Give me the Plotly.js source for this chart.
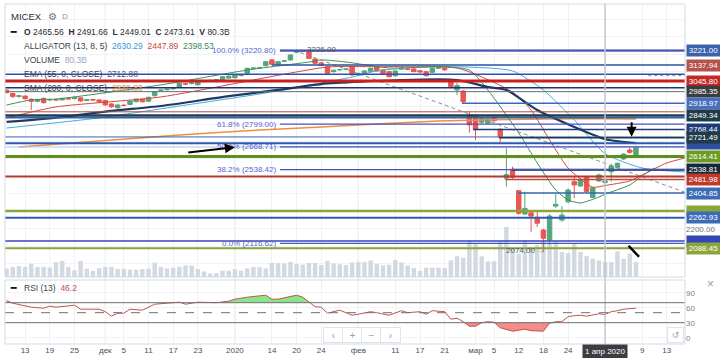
<!DOCTYPE html>
<html><head><meta charset="utf-8">
<script src="https://cdn.plot.ly/plotly-3.0.1.min.js"></script>
<style>html,body{margin:0;padding:0;background:#fff;}#chart{width:720px;height:358px;}</style>
</head><body><div id="chart"></div>
<script>
// ---------------- DATA ----------------
const dates = ['2019-11-08','2019-11-11','2019-11-12','2019-11-13','2019-11-14','2019-11-15','2019-11-18','2019-11-19','2019-11-20','2019-11-21','2019-11-22','2019-11-25','2019-11-26','2019-11-27','2019-11-28','2019-11-29',
'2019-12-02','2019-12-03','2019-12-04','2019-12-05','2019-12-06','2019-12-09','2019-12-10','2019-12-11','2019-12-12','2019-12-13','2019-12-16','2019-12-17','2019-12-18','2019-12-19','2019-12-20','2019-12-23','2019-12-24','2019-12-25','2019-12-26','2019-12-27','2019-12-30',
'2020-01-03','2020-01-06','2020-01-08','2020-01-09','2020-01-10','2020-01-13','2020-01-14','2020-01-15','2020-01-16','2020-01-17','2020-01-20','2020-01-21','2020-01-22','2020-01-23','2020-01-24','2020-01-27','2020-01-28','2020-01-29','2020-01-30','2020-01-31',
'2020-02-03','2020-02-04','2020-02-05','2020-02-06','2020-02-07','2020-02-10','2020-02-11','2020-02-12','2020-02-13','2020-02-14','2020-02-17','2020-02-18','2020-02-19','2020-02-20','2020-02-21','2020-02-25','2020-02-26','2020-02-27','2020-02-28',
'2020-03-02','2020-03-03','2020-03-04','2020-03-05','2020-03-06','2020-03-10','2020-03-11','2020-03-12','2020-03-13','2020-03-16','2020-03-17','2020-03-18','2020-03-19','2020-03-20','2020-03-23','2020-03-24','2020-03-25','2020-03-26','2020-03-27','2020-03-30','2020-03-31',
'2020-04-01','2020-04-02','2020-04-03','2020-04-06','2020-04-07','2020-04-08'];
const futureDates = ['2020-04-09','2020-04-10','2020-04-11','2020-04-12','2020-04-13'];

const open = [2994,2975,2958,2960,2942,2930,2947,2938,2940,2938,2947,2945,2950,2935,2940,2938,
2934,2915,2893,2908,2912,2928,2942,2930,2962,2990,2996,3002,3012,3030,3032,3025,3043,3044,3052,3055,3063,
3065,3078,3090,3118,3121,3134,3167,3142,3160,3167,3211,3219,3214,3172,3150,3128,3100,3110,3114,3128,
3080,3087,3102,3128,3110,3100,3076,3114,3115,3115,3105,3100,3096,3119,3119,3052,2995,2989,2842,
2846,2810,2805,2838,2770,2490,2541,2418,2285,2292,2266,2193,2136,2330,2250,2355,2470,2445,2495,2380,2474,
2465.56,2527,2552,2600,2651,2623];
const high = [2998,2980,2966,2964,2946,2945,2952,2945,2946,2950,2952,2955,2953,2944,2946,2942,
2938,2920,2912,2914,2935,2946,2946,2955,2988,2998,3004,3008,3036,3036,3040,3042,3049,3053,3058,3074,3078,
3084,3084,3122,3125,3127,3160,3172,3160,3166,3198,3226,3224,3218,3176,3156,3132,3112,3117,3120,3132,
3095,3108,3122,3133,3114,3104,3108,3124,3120,3120,3110,3104,3122,3132,3124,3058,3035,2995,2870,
2855,2840,2835,2845,2775,2661,2556,2422,2413,2308,2300,2200,2284,2403,2330,2430,2502,2490,2500,2440,2516,
2491.66,2573,2580,2632,2665,2675];
const low = [2976,2950,2950,2940,2880,2925,2918,2932,2934,2935,2940,2942,2928,2930,2934,2920,
2905,2893,2888,2900,2908,2924,2924,2928,2958,2985,2992,2996,3008,3024,3027,3020,3038,3040,3047,3050,3058,
3060,3072,3085,3112,3115,3130,3138,3138,3154,3163,3205,3212,3172,3144,3132,3085,3094,3105,3108,3078,
3075,3083,3098,3100,3086,3068,3072,3110,3108,3096,3094,3072,3092,3115,3105,3010,2966,2915,2750,
2708,2800,2798,2812,2690,2441,2480,2280,2279,2183,2210,2074,2110,2320,2240,2345,2375,2440,2405,2375,2468,
2449.01,2471,2545,2595,2630,2618];
const close = [2980,2957,2962,2945,2930,2941,2922,2940,2938,2947,2944,2952,2932,2940,2938,2928,
2909,2899,2909,2906,2932,2943,2927,2953,2985,2994,2999,3004,3033,3029,3035,3040,3045,3050,3054,3071,3074,
3081,3079,3119,3120,3123,3157,3142,3157,3162,3195,3220,3217,3176,3148,3137,3090,3108,3112,3115,3081,
3090,3104,3119,3104,3090,3071,3104,3120,3112,3100,3098,3077,3119,3128,3110,3014,3020,2928,2795,
2770,2830,2829,2819,2728,2510,2495,2289,2317,2273,2232,2146,2273,2340,2279,2422,2451,2483,2413,2435,2508,
2473.61,2560,2575,2628,2638,2667];
const volume = [46,54,59,54,71,54,54,50,80,86,54,36,86,45,32,48,
54,54,43,43,39,39,43,45,77,54,46,50,55,62,61,43,30,18,21,34,34,
41,34,46,55,52,46,75,75,73,80,70,66,75,75,64,86,73,68,64,78,
80,80,89,71,62,66,91,78,62,48,32,50,50,50,48,89,111,103,196,
180,111,84,84,187,268,151,125,196,159,170,187,178,191,134,128,182,134,112,98,89,
80.3,80,137,98,125,80];

// indicator readings (bar number, value)
const emaBar = [0,9,17,25,36,44,51,64,73,78,81,86,92,97,102];
const emaVal = [2812,2840,2875,2903,2960,2995,3029,3052,3052,3012,2995,2880,2783,2712.88,2691];
const smaBar = [2,28,41,51,70,87,97,102];
const smaVal = [2668,2737,2766,2783,2817,2829,2830.83,2829];
const jawBar = [0,15,28,41,51,56,60,67,75,82,87,92,97,103,110];
const jawVal = [2777,2835,2903,2972,3035,3069,3104,3126,3126,3104,2995,2823,2630.29,2548,2525];
const teethBar = [0,8,25,52,60,73,82,85,88,91,95,97,101,103,107,110];
const teethVal = [2835,2898,2955,3126,3128,3121,2983,2880,2709,2548,2438,2447.89,2474,2508,2577,2606];
const lipsBar = [0,4,8,25,39,49,51,55,62,70,75,78,83,86,89,91,93,96,97,101,103,105];
const lipsVal = [2909,2938,2943,3024,3109,3155,3167,3155,3121,3127,3109,2995,2749,2577,2422,2365,2348,2382,2398.53,2451,2503,2548];
const rsiBar = [0,1,4,6,7,8,11,12,15,16,17,18,19,20,22,24,27,28,29,31,34,36,37,39,42,43,44,46,47,48,50,51,52,54,55,56,57,59,60,62,64,65,67,68,69,71,72,73,74,75,76,77,78,79,80,81,82,83,84,85,86,87,88,89,90,91,92,93,94,95,96,97,98,99,100,101,102];
const rsiVal = [74,69,61,59,63,61,65,57,57,52,43,49,49,57,55,67,70,71,67,71,70,73,77,81,85,77,77,83,85,81,62,61,49,55,50,45,47,52,50,45,54,50,52,47,54,52,37,39,32,23,23,30,32,31,20,16,13,15,17,14,13,13,29,32,32,42,44,45,43,45,48,46.2,52,54,57,58,59];

// drawn levels
const levelPrice = [3221.00,3137.94,3085,3045.80,3008,2985.35,2918.97,2870,2849.34,2836,2768.44,2726,2721.49,2690,2668.71,2614.41,2538.81,2500,2481.98,2404.85,2302,2262.93,2130,2088.45];
const levelStart = [44.3,43.0,null,null,null,null,73.8,null,null,null,75.6,null,79.8,null,null,null,81.9,null,80.8,82.9,null,null,null,null];
const boxPrice = [2768.44,2690.00,2302.00,2130.00,3221.00,3137.94,3045.80,2985.35,2918.97,2849.34,2721.49,2614.41,2538.81,2481.98,2404.85,2262.93,2088.45];
const boxCovered = [false,true,true,true,false,false,false,false,false,false,false,false,false,false,false,false,false];
const fibRatio = ['100.0%','61.8%','50.0%','38.2%','0.0%'];
const fibPrice = [3220.80,2799.00,2668.71,2538.42,2116.62];
const fibStartBar = 44.3;
const trendBar = [46.5,109.95];
const trendVal = [3223,2409];
const arrowFrom = [[29.2,2636],[101.3,2819]];
const arrowTo = [[37.0,2667],[101.3,2727]];
const slashBar = [100.8,102.5];
const slashVal = [2103,2040];
const highMark = {date:'2020-01-20', value:3226.00};
const lowMark = {date:'2020-03-18', value:2074.00};

const tickDates = ['2019-11-13','2019-11-19','2019-11-25','2019-12-02','2019-12-05','2019-12-11','2019-12-17','2019-12-23','2020-01-03','2020-01-14','2020-01-20','2020-01-24','2020-02-03','2020-02-11','2020-02-17','2020-02-21','2020-03-02','2020-03-05','2020-03-12','2020-03-18','2020-03-24','2020-04-09','2020-04-13'];
const tickText = ['13','19','25','дек','5','11','17','23','2020','14','20','24','фев','11','17','21','мар','5','12','18','24','9','13'];
const monthStarts = ['2019-12-02','2020-01-03','2020-02-03','2020-03-02'];
const crossDate = '2020-04-01';
const crossLabel = '1 апр 2020';

// ---------------- STYLE / LAYOUT ----------------
const levelColor = ['#23408e','#2c50a0','#2f52b0','#cc1f1f','#1e3572','#6a6a6a','#3d68b8','#b04a45','#1f3d52','#3060b0','#1f3a78','#3a62b0','#1c3d4c','#2d5ab0','#a9c4ea','#5f901c','#0f2a45','#b23a32','#c24a3c','#3566b3','#8aa63a','#2f5cb0','#3346b8','#86a33a'];
const levelWidth = [2,1.5,1.5,3,1.5,1,1.5,1,2.5,1.5,1.5,1,1.5,2,1,3,2,2,1.5,1.5,2.5,2,1.5,2];
const boxColor = ['#1f3a78','#2d4f9e','#8aa63a','#3346b8','#3a62ad','#b5524c','#c62828','#3c3c3c','#4770bd','#1f3a48','#1f3a48','#6d9a24','#14283a','#c0392b','#3c6bb5','#3c6bb5','#8aa63a'];

const W=720,H=358,M={l:5,r:35,t:4,b:14};
const PW=W-M.l-M.r, PH=H-M.t-M.b;
const px = x => (x-M.l)/PW;
const py = y => (H-M.b-y)/PH;
const xRange=[-0.26,109.95];
const priceRange=[1924.1,3487.2];
const volRange=[0,1461];
const rsiRange=[-12.6,115.4];
const mainDomain=[py(277),1];
const rsiDomain=[0,py(280)];
const FONT='Liberation Sans, Arial, sans-serif';

const axisDates = dates.concat(futureDates);
const bars = dates.map((d,i)=>i);
const k = dates.indexOf(crossDate);
const at = (b,v,i)=>v[b.indexOf(i)];

// ---------------- TRACES ----------------
const traces = [];
traces.push({type:'bar',x:bars,y:volume,xaxis:'x',yaxis:'y',marker:{color:'#d3d9e1'},width:0.72,hoverinfo:'skip'});
traces.push({type:'candlestick',x:bars,open:open,high:high,low:low,close:close,xaxis:'x',yaxis:'y3',
  increasing:{line:{color:'#55a57c',width:1},fillcolor:'#55a57c'},
  decreasing:{line:{color:'#ea5650',width:1},fillcolor:'#ea5650'},whiskerwidth:0,hoverinfo:'skip'});
function line(xs,ys,color,width,dash){return {type:'scatter',mode:'lines',x:xs,y:ys,xaxis:'x',yaxis:'y3',line:{color:color,width:width,dash:dash||'solid',shape:'spline',smoothing:0.6},hoverinfo:'skip'};}
traces.push(line(smaBar,smaVal,'#ef8f3a',1.5));
traces.push(line(jawBar,jawVal,'#4aa8de',1));
traces.push(line(teethBar,teethVal,'#d5493c',1));
traces.push(line(lipsBar,lipsVal,'#3f9158',1));
traces.push(line(emaBar,emaVal,'#1d3a62',2.2));
traces.push({type:'scatter',mode:'lines',x:trendBar,y:trendVal,xaxis:'x',yaxis:'y3',line:{color:'#8a8d93',width:1,dash:'4px,3px'},hoverinfo:'skip'});

function clipAt(xs,ys,lvl,above){
  const X=[],Y=[];
  for(let i=0;i<xs.length;i++){
    if(i>0){const y0=ys[i-1],y1=ys[i];
      if((y0-lvl)*(y1-lvl)<0){const t=(lvl-y0)/(y1-y0);X.push(xs[i-1]+t*(xs[i]-xs[i-1]));Y.push(lvl);}}
    X.push(xs[i]);Y.push(above?Math.max(ys[i],lvl):Math.min(ys[i],lvl));
  }
  return {X,Y};
}
const up=clipAt(rsiBar,rsiVal,70,true), dn=clipAt(rsiBar,rsiVal,30,false);
traces.push({type:'scatter',mode:'lines',x:up.X,y:up.X.map(()=>70),xaxis:'x',yaxis:'y2',line:{width:0},hoverinfo:'skip'});
traces.push({type:'scatter',mode:'lines',x:up.X,y:up.Y,xaxis:'x',yaxis:'y2',line:{width:0},fill:'tonexty',fillcolor:'rgba(96,222,96,0.75)',hoverinfo:'skip'});
traces.push({type:'scatter',mode:'lines',x:dn.X,y:dn.X.map(()=>30),xaxis:'x',yaxis:'y2',line:{width:0},hoverinfo:'skip'});
traces.push({type:'scatter',mode:'lines',x:dn.X,y:dn.Y,xaxis:'x',yaxis:'y2',line:{width:0},fill:'tonexty',fillcolor:'rgba(242,110,110,0.8)',hoverinfo:'skip'});
traces.push({type:'scatter',mode:'lines',x:rsiBar,y:rsiVal,xaxis:'x',yaxis:'y2',line:{color:'#c0534f',width:1},hoverinfo:'skip'});

// ---------------- SHAPES ----------------
const shapes=[];
monthStarts.forEach(d=>{const i=axisDates.indexOf(d);
  shapes.push({type:'line',xref:'x',yref:'paper',x0:i,x1:i,y0:0,y1:1,line:{color:'#dcdfe5',width:1},layer:'below'});});
levelPrice.forEach((p,i)=>{
  shapes.push({type:'line',xref:'x',yref:'y3',x0:levelStart[i]===null?xRange[0]:levelStart[i],x1:xRange[1],y0:p,y1:p,line:{color:levelColor[i],width:levelWidth[i]},layer:'above'});});
fibPrice.forEach(p=>{
  shapes.push({type:'line',xref:'x',yref:'y3',x0:fibStartBar,x1:xRange[1],y0:p,y1:p,line:{color:'#4a50c6',width:1.3},layer:'above'});});
shapes.push({type:'line',xref:'x',yref:'y3',x0:104,x1:xRange[1],y0:3077,y1:3077,line:{color:'#8a8d93',width:1,dash:'3px,3px'},layer:'above'});
shapes.push({type:'line',xref:'x',yref:'y3',x0:slashBar[0],x1:slashBar[1],y0:slashVal[0],y1:slashVal[1],line:{color:'#000',width:2.5},layer:'above'});
const kc=dates.indexOf(crossDate);
shapes.push({type:'line',xref:'x',yref:'paper',x0:kc,x1:kc,y0:0,y1:1,line:{color:'#c3c6cc',width:1.5},layer:'above'});
[[70,'solid'],[50,'dash'],[30,'solid']].forEach(([v,d])=>shapes.push({type:'line',xref:'paper',yref:'y2',x0:0,x1:1,y0:v,y1:v,line:{color:'#6f6f6f',width:1,dash:d},layer:'above'}));
shapes.push({type:'rect',xref:'paper',yref:'paper',x0:0,x1:1,y0:mainDomain[0],y1:1,line:{color:'#d3d9e3',width:1}});
shapes.push({type:'rect',xref:'paper',yref:'paper',x0:0,x1:1,y0:0,y1:rsiDomain[1],line:{color:'#d3d9e3',width:1}});

// ---------------- ANNOTATIONS ----------------
const ann=[];
const NB='\u00a0';
function txt(x,y,text,size,color,extra){return Object.assign({xref:'paper',yref:'paper',x:px(x),y:py(y),xanchor:'left',yanchor:'middle',text:text,showarrow:false,font:{family:FONT,size:size,color:color}},extra||{});}
ann.push(txt(9,16.5,'MICEX',9.5,'#2a2e39'));
ann.push(txt(46,16.5,'⚙',10,'#6e717c'));
ann.push(txt(60,17,'D',8,'#8e929c'));
ann.push(txt(8,32.3,'<b>━</b>',9,'#131722'));
const f2=v=>v.toFixed(2);
ann.push(txt(22,32.3,`<b>O</b>${NB}${f2(open[k])}${NB} <b>H</b>${NB}${f2(high[k])}${NB} <b>L</b>${NB}${f2(low[k])}${NB} <b>C</b>${NB}${f2(close[k])}${NB} <b>V</b>${NB}${volume[k]}B`,8.5,'#2a2e39'));
ann.push(txt(22,45.7,`ALLIGATOR (13, 8, 5)${NB} <span style="color:#3797d3">${f2(at(jawBar,jawVal,k))}</span>${NB} <span style="color:#c8463a">${f2(at(teethBar,teethVal,k))}</span>${NB} <span style="color:#3b8b55">${f2(at(lipsBar,lipsVal,k))}</span>`,8.5,'#3b3f4a'));
ann.push(txt(22,60,`VOLUME${NB} <span style="color:#9aa9bd">${volume[k]}B</span>`,8.5,'#3b3f4a'));
ann.push(txt(22,74,`EMA (55, 0, CLOSE)${NB} <span style="color:#3a5a86">${f2(at(emaBar,emaVal,k))}</span>`,8.5,'#3b3f4a'));
ann.push(txt(22,88.3,`SMA (200, 0, CLOSE)${NB} <span style="color:#e8893a">${f2(at(smaBar,smaVal,k))}</span>`,8.5,'#3b3f4a'));
ann.push(txt(8,288.3,'<b>━</b>',9,'#131722'));
ann.push(txt(22,288.3,`RSI (13)${NB} <span style="color:#c0504d">${at(rsiBar,rsiVal,k)}</span>`,8.5,'#3b3f4a'));

fibPrice.forEach((p,i)=>ann.push({xref:'x',yref:'y3',x:fibStartBar-0.3,y:p,xanchor:'right',yanchor:'middle',text:`${fibRatio[i]} (${f2(p)})`,showarrow:false,font:{family:FONT,size:8,color:'#5a5fd0'}}));
ann.push({xref:'x',yref:'y3',x:dates.indexOf(highMark.date)+1.4,y:highMark.value,xanchor:'left',yanchor:'middle',text:f2(highMark.value),showarrow:false,font:{family:FONT,size:8,color:'#555a66'}});
ann.push({xref:'x',yref:'y3',x:dates.indexOf(lowMark.date)+0.6,y:lowMark.value,xanchor:'right',yanchor:'middle',text:f2(lowMark.value)+' →',showarrow:false,font:{family:FONT,size:8,color:'#555a66'}});
arrowFrom.forEach((a,i)=>ann.push({xref:'x',yref:'y3',axref:'x',ayref:'y3',x:arrowTo[i][0],y:arrowTo[i][1],ax:a[0],ay:a[1],text:'',showarrow:true,arrowhead:2,arrowsize:1,arrowwidth:2,arrowcolor:'#000'}));
boxPrice.forEach((p,i)=>ann.push({xref:'paper',yref:'y3',x:1,xshift:1,y:p,xanchor:'left',yanchor:'middle',text:boxCovered[i]?NB:f2(p),showarrow:false,bgcolor:boxColor[i],width:31,height:9,borderpad:1,font:{family:FONT,size:8,color:'#ffffff'}}));
ann.push({xref:'x',yref:'paper',x:kc,y:py(351.5),xanchor:'center',yanchor:'middle',text:crossLabel,showarrow:false,bgcolor:'#3b3d42',borderpad:2,font:{family:FONT,size:8,color:'#ffffff'}});
[['‹',333],['+',352],['−',371],['›',390]].forEach(([t,x])=>ann.push({xref:'paper',yref:'paper',x:px(x),y:py(335),xanchor:'center',yanchor:'middle',text:t,showarrow:false,bgcolor:'#ffffff',bordercolor:'#e0e3eb',borderwidth:1,width:17,height:12,font:{family:FONT,size:10,color:'#9aa0ab'}}));
ann.push({xref:'paper',yref:'paper',x:px(675.5),y:py(335),xanchor:'center',yanchor:'middle',text:'↺',showarrow:false,bgcolor:'#ffffff',bordercolor:'#e0e3eb',borderwidth:1,width:13,height:12,font:{family:'DejaVu Sans',size:9,color:'#9aa0ab'}});
ann.push({xref:'paper',yref:'paper',x:px(710),y:py(284),xanchor:'center',yanchor:'middle',text:'×',showarrow:false,font:{family:FONT,size:12,color:'#9aa0ab'}});

const priceTicks=[],priceText=[];
for(let v=2000;v<=3400;v+=100){priceTicks.push(v);priceText.push(v===2200?'2200.00':'');}

const layout={width:W,height:H,margin:M,paper_bgcolor:'#fff',plot_bgcolor:'#fff',showlegend:false,hovermode:false,
  font:{family:FONT,size:8,color:'#4a4e59'},boxgap:0.2,boxgroupgap:0.1,
  xaxis:{domain:[0,1],range:xRange,anchor:'y2',tickmode:'array',tickvals:tickDates.map(d=>axisDates.indexOf(d)),ticktext:tickText,
    showgrid:true,gridcolor:'#eff1f4',zeroline:false,showline:false,ticks:'',tickfont:{family:FONT,size:8,color:'#4a4e59'},rangeslider:{visible:false},fixedrange:true},
  yaxis:{domain:mainDomain,range:volRange,visible:false,fixedrange:true},
  yaxis3:{overlaying:'y',side:'right',range:priceRange,tickmode:'array',tickvals:priceTicks,ticktext:priceText,showgrid:true,gridcolor:'#f2f3f6',zeroline:false,ticks:'',tickfont:{family:FONT,size:8,color:'#6b6f7a'},fixedrange:true},
  yaxis2:{domain:rsiDomain,range:rsiRange,side:'right',anchor:'x',tickmode:'array',tickvals:[0,30,60,90],showgrid:true,gridcolor:'#f2f3f6',zeroline:false,ticks:'',tickfont:{family:FONT,size:8,color:'#7d818c'},fixedrange:true},
  shapes:shapes,annotations:ann};
Plotly.newPlot('chart',traces,layout,{displayModeBar:false,staticPlot:true});
</script></body></html>
